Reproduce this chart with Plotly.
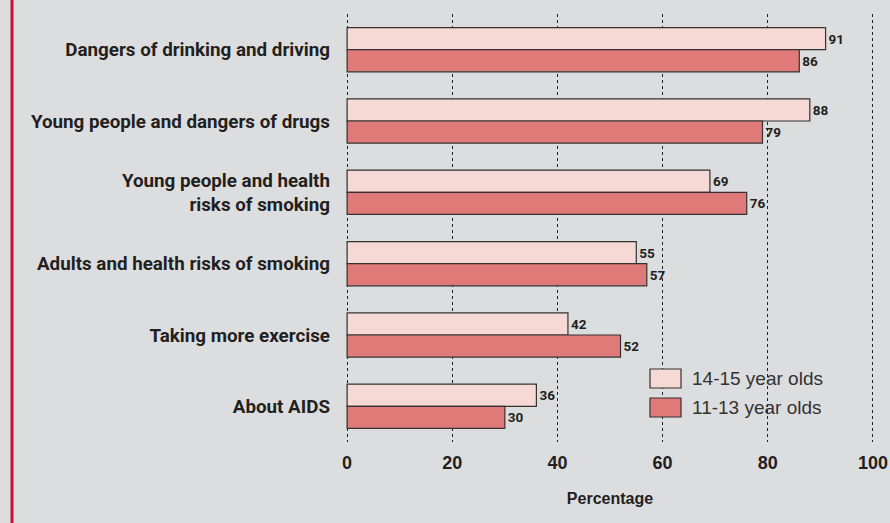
import plotly.graph_objects as go

categories = [
    "Dangers of drinking and driving",
    "Young people and dangers of drugs",
    "Young people and health<br>risks of smoking",
    "Adults and health risks of smoking",
    "Taking more exercise",
    "About AIDS",
]
series_names = ["14-15 year olds", "11-13 year olds"]
older = [91, 88, 69, 55, 42, 36]
younger = [86, 79, 76, 57, 52, 30]
x_ticks = [0, 20, 40, 60, 80, 100]

colors = ["#f6d9d4", "#e07a78"]
FONT = "Liberation Sans, Arial, sans-serif"
LABFONT = "Roboto, Liberation Sans, sans-serif"
TXT = "#231f20"

fig = go.Figure()
for name, vals, col in zip(series_names, [older, younger], colors):
    fig.add_trace(go.Bar(
        y=categories, x=vals, name=name, orientation="h",
        marker=dict(color=col, line=dict(color="#333333", width=1.2)),
        text=[str(v) for v in vals], textposition="outside",
        textfont=dict(family=LABFONT, size=13.5, color=TXT, weight="bold"),
        cliponaxis=False, showlegend=False,
    ))

# plot area: 0 -> px 347, 100 -> px 873 (range padded so edge gridlines show)
fig.update_layout(
    width=890, height=523,
    margin=dict(l=345, r=15, t=14, b=81, autoexpand=False),
    paper_bgcolor="#dcdddf", plot_bgcolor="#dcdddf",
    barmode="group", bargap=0.38, bargroupgap=0,
    font=dict(family=FONT, color=TXT),
    showlegend=False,
)
fig.update_xaxes(
    range=[-0.4, 100.4], tickvals=x_ticks, ticktext=[str(t) for t in x_ticks],
    showgrid=True, gridcolor="#222222", griddash="dot", gridwidth=1.3,
    zeroline=False, showline=False, ticks="", automargin=False,
    tickfont=dict(family=FONT, size=18, color=TXT, weight="bold"),
    ticklabelstandoff=8,
    title=dict(text="Percentage", font=dict(family=FONT, size=16, color=TXT, weight="bold"), standoff=20),
)
fig.update_yaxes(
    range=[5.5, -0.5], showgrid=False, zeroline=False, showline=False, ticks="",
    automargin=False,
    tickfont=dict(family=LABFONT, size=18.8, color=TXT, weight="bold"),
    ticklabelstandoff=14,
)

# left red border (px 12)
fig.add_shape(type="line", xref="paper", yref="paper",
              x0=(12 - 345) / 530, x1=(12 - 345) / 530, y0=-0.3, y1=1.1,
              line=dict(color="#c8103a", width=3))

# manual legend (paper coords, plot area px 345..875 x, 14..442 y)
def px(x):
    return (x - 345) / 530

def py(y):
    return (442 - y) / 428

leg = [(388, 369), (417, 398)]
for (yb, yt), name, col in zip(leg, series_names, colors):
    fig.add_shape(type="rect", xref="paper", yref="paper",
                  x0=px(650), x1=px(681), y0=py(yb), y1=py(yt),
                  fillcolor=col, line=dict(color="#333333", width=1.2))
    fig.add_annotation(xref="paper", yref="paper", x=px(690), y=py((yb + yt) / 2),
                       text=name, showarrow=False, xanchor="left", yanchor="middle",
                       font=dict(family=FONT, size=19, color="#333333"))

fig.write_html("out.html")
